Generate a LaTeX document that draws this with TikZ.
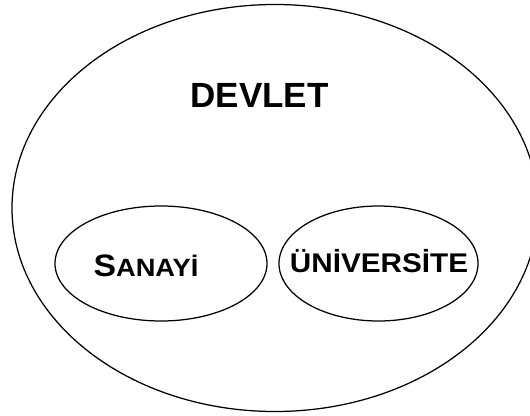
\documentclass[tikz,border=0pt]{standalone}
\usepackage{fontspec}
\setmainfont{Liberation Sans}
\usetikzlibrary{shapes.geometric}
\begin{document}
\begin{tikzpicture}[x=1pt,y=-1pt,
  ring/.style={draw=black, line width=1.25pt, ellipse, inner sep=0pt},
  lbl/.style={anchor=base, inner sep=0pt, font=\bfseries}]
\useasboundingbox (0,0) rectangle (530,415);
\clip (0,0) rectangle (530,415);
\node[ring, minimum width=526pt, minimum height=407pt] (devletring) at (275,208) {};
\node[ring, minimum width=212pt, minimum height=115pt] (sanayiring) at (161,263.5) {};
\node[ring, minimum width=199pt, minimum height=115pt] (uniring) at (378.5,263.5) {};
\node[lbl] (devlet) at (259.5,107) {\fontsize{35}{40}\selectfont DEVLET};
\node[lbl] (sanayi) at (146,276) {\scalebox{1.09}[1]{{\fontsize{31}{36}\selectfont S}{\fontsize{25}{30}\selectfont ANAYİ}}};
\node[lbl] (uni) at (379,272) {\scalebox{1.1}[1]{\fontsize{27}{32}\selectfont ÜNİVERSİTE}};
\end{tikzpicture}
\end{document}
